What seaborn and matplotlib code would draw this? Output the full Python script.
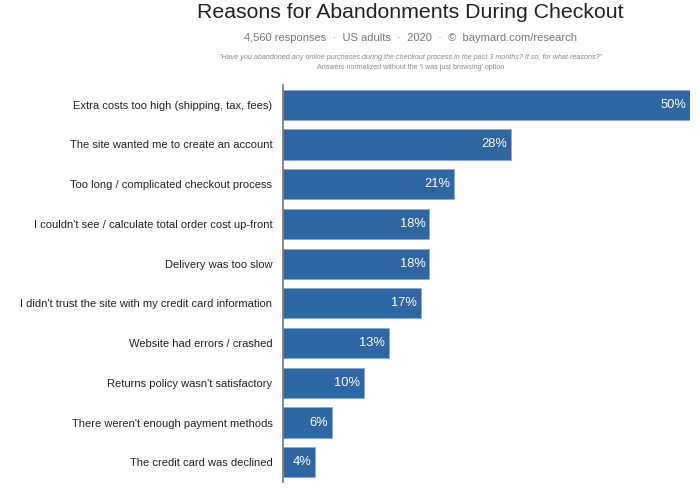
import pandas as pd
import seaborn as sns
import matplotlib.pyplot as plt

reasons = [
    "Extra costs too high (shipping, tax, fees)",
    "The site wanted me to create an account",
    "Too long / complicated checkout process",
    "I couldn't see / calculate total order cost up-front",
    "Delivery was too slow",
    "I didn't trust the site with my credit card information",
    "Website had errors / crashed",
    "Returns policy wasn't satisfactory",
    "There weren't enough payment methods",
    "The credit card was declined",
]
shares = [50, 28, 21, 18, 18, 17, 13, 10, 6, 4]

df = pd.DataFrame({"reason": reasons, "share": shares})

sns.set_theme(style="white")
plt.rcParams['font.family'] = ['Liberation Sans', 'DejaVu Sans']

fig = plt.figure(figsize=(7, 4.88), dpi=100)
ax = fig.add_axes([0.404, 0.012, 0.582, 0.814])

sns.barplot(data=df, x="share", y="reason", color="#2f66a4", saturation=1, width=0.76,
            edgecolor="#8aaad0", linewidth=0.6, ax=ax)
ax.set_xlim(0, 50)
ax.set_ylim(9.5, -0.5)

for i, v in enumerate(shares):
    ax.text(v - 0.5, i, f"{v}%", color="white", ha="right", va="center", fontsize=9.3)

ax.set_xlabel("")
ax.set_ylabel("")
ax.set_xticks([])
ax.tick_params(axis="y", length=0, pad=7.5, labelsize=8.0, labelcolor="#222222")
for s in ["top", "right", "bottom"]:
    ax.spines[s].set_visible(False)
ax.spines["left"].set_color("#777777")
ax.spines["left"].set_linewidth(1.2)

fig.text(0.586, 0.974, "Reasons for Abandonments During Checkout", ha="center", va="center",
         fontsize=15.3, color="#222222")
fig.text(0.586, 0.922, "4,560 responses  \u00b7  US adults  \u00b7  2020  \u00b7  \u00a9  baymard.com/research",
         ha="center", va="center", fontsize=8, color="#777777")
fig.text(0.586, 0.882, "\"Have you abandoned any online purchases during the checkout process in the past 3 months? If so, for what reasons?\"",
         ha="center", va="center", fontsize=5.1, color="#888888", style="italic")
fig.text(0.586, 0.861, "Answers normalized without the 'I was just browsing' option",
         ha="center", va="center", fontsize=5.1, color="#888888")

fig.savefig("out.png", dpi=100)
